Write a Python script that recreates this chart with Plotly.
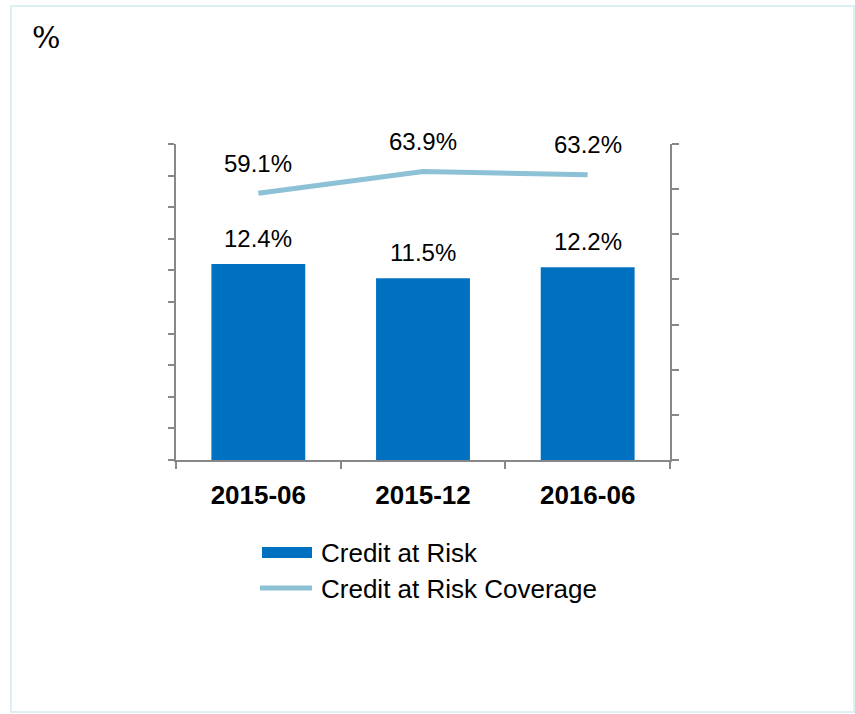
import plotly.graph_objects as go

# Reporting periods and ratios (%)
periods = ["2015-06", "2015-12", "2016-06"]
credit_at_risk = [12.4, 11.5, 12.2]
car_coverage = [59.1, 63.9, 63.2]
series_names = ["Credit at Risk", "Credit at Risk Coverage"]

BAR_COLOR = "#0070C0"
LINE_COLOR = "#8DC1D6"
AXIS_COLOR = "#878787"
FONT = "Arial, Liberation Sans, sans-serif"

W, H = 855, 714
M_L, M_R, M_T, M_B = 176, 185, 144, 254
PW, PH = W - M_L - M_R, H - M_T - M_B


def px_x(x):
    """Pixel column -> paper fraction."""
    return (x - M_L) / PW


def px_y(y):
    """Pixel row -> paper fraction."""
    return (H - M_B - y) / PH


fig = go.Figure()

fig.add_trace(go.Bar(
    x=periods, y=credit_at_risk, name=series_names[0],
    marker=dict(color=BAR_COLOR, line=dict(width=0)),
    yaxis="y", showlegend=False, hoverinfo="skip",
))
fig.add_trace(go.Scatter(
    x=periods, y=car_coverage, name=series_names[1], mode="lines",
    line=dict(color=LINE_COLOR, width=5),
    yaxis="y2", showlegend=False, hoverinfo="skip",
))

annotations = []
# value labels above bars
for p, v in zip(periods, credit_at_risk):
    annotations.append(dict(
        x=p, y=v, xref="x", yref="y", text=f"{v:.1f}%", showarrow=False,
        yanchor="middle", yshift=26, font=dict(family=FONT, size=24, color="#000"),
    ))
# value labels above the coverage line
for p, v in zip(periods, car_coverage):
    annotations.append(dict(
        x=p, y=v, xref="x", yref="y2", text=f"{v:.1f}%", showarrow=False,
        yanchor="middle", yshift=30, font=dict(family=FONT, size=24, color="#000"),
    ))
# unit marker
annotations.append(dict(
    x=px_x(46.5), y=px_y(37.5), xref="paper", yref="paper", text="%",
    showarrow=False, xanchor="center", yanchor="middle",
    font=dict(family="DejaVu Serif", size=30, color="#000"),
))
# legend texts
annotations.append(dict(
    x=px_x(319), y=px_y(553), xref="paper", yref="paper", text=series_names[0],
    showarrow=False, xanchor="left", yanchor="middle",
    font=dict(family=FONT, size=26, color="#000"),
))
annotations.append(dict(
    x=px_x(319), y=px_y(589), xref="paper", yref="paper", text=series_names[1],
    showarrow=False, xanchor="left", yanchor="middle",
    font=dict(family=FONT, size=26, color="#000"),
))

shapes = [
    # outer frame
    dict(type="rect", xref="paper", yref="paper",
         x0=px_x(11), x1=px_x(854), y0=px_y(712), y1=px_y(6),
         line=dict(color="#DCEFF3", width=2), fillcolor="rgba(0,0,0,0)", layer="below"),
    # legend swatches
    dict(type="rect", xref="paper", yref="paper",
         x0=px_x(262), x1=px_x(312), y0=px_y(558), y1=px_y(547),
         line=dict(width=0), fillcolor=BAR_COLOR),
    dict(type="line", xref="paper", yref="paper",
         x0=px_x(260), x1=px_x(312), y0=px_y(588), y1=px_y(588),
         line=dict(color=LINE_COLOR, width=5)),
]

fig.update_layout(
    width=W, height=H,
    margin=dict(l=M_L, r=M_R, t=M_T, b=M_B, pad=0),
    paper_bgcolor="white", plot_bgcolor="white",
    bargap=0.43,
    showlegend=False,
    font=dict(family=FONT, color="#000"),
    xaxis=dict(
        type="category", showline=True, linecolor=AXIS_COLOR, linewidth=1.5,
        ticks="outside", tickson="boundaries", ticklen=7, tickcolor=AXIS_COLOR, tickwidth=1.5,
        showgrid=False, zeroline=False,
        tickfont=dict(family=FONT, size=26, color="#000", weight="bold"),
        ticklabelstandoff=11,
    ),
    yaxis=dict(
        range=[0, 20], dtick=2, showticklabels=False, showgrid=False, zeroline=False,
        showline=True, linecolor=AXIS_COLOR, linewidth=1.5,
        ticks="outside", ticklen=6, tickcolor=AXIS_COLOR, tickwidth=1.5,
    ),
    yaxis2=dict(
        range=[0, 70], dtick=10, overlaying="y", side="right",
        showticklabels=False, showgrid=False, zeroline=False,
        showline=True, linecolor=AXIS_COLOR, linewidth=1.5,
        ticks="outside", ticklen=7, tickcolor=AXIS_COLOR, tickwidth=1.5,
    ),
    annotations=annotations,
    shapes=shapes,
)

fig.write_html("out.html")
